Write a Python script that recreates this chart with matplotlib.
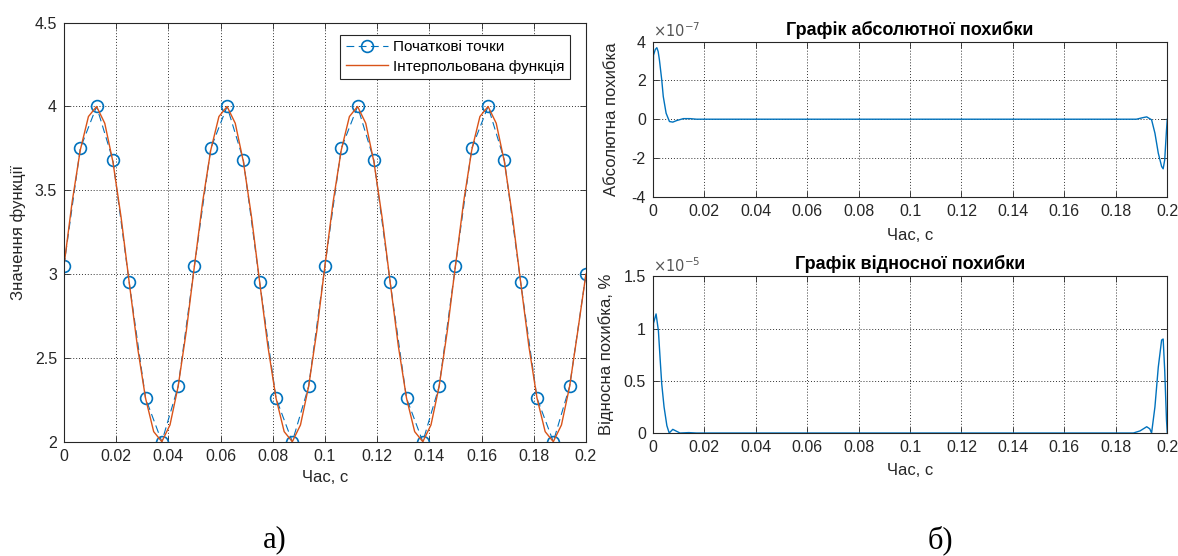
import matplotlib
matplotlib.use("Agg")
import matplotlib.pyplot as plt
import matplotlib.ticker as mt

plt.rcParams['font.family'] = ['Liberation Sans', 'DejaVu Sans']
plt.rcParams['axes.unicode_minus'] = False

# left plot: initial points and interpolated function
sample_t = [0, 0.00625, 0.0125, 0.01875, 0.025, 0.03125, 0.0375, 0.04375,
            0.05, 0.05625, 0.0625, 0.06875, 0.075, 0.08125, 0.0875, 0.09375,
            0.1, 0.10625, 0.1125, 0.11875, 0.125, 0.13125, 0.1375, 0.14375,
            0.15, 0.15625, 0.1625, 0.16875, 0.175, 0.18125, 0.1875, 0.19375, 0.2]
sample_y = [3.05, 3.75, 4.0, 3.68, 2.95, 2.26, 2.0, 2.33,
            3.05, 3.75, 4.0, 3.68, 2.95, 2.26, 2.0, 2.33,
            3.05, 3.75, 4.0, 3.68, 2.95, 2.26, 2.0, 2.33,
            3.05, 3.75, 4.0, 3.68, 2.95, 2.26, 2.0, 2.33, 3.0]

curve_t = [0, 0.003125, 0.00625, 0.009375, 0.0125, 0.015625, 0.01875, 0.021875,
           0.025, 0.028125, 0.03125, 0.034375, 0.0375, 0.040625, 0.04375, 0.046875,
           0.05, 0.053125, 0.05625, 0.059375, 0.0625, 0.065625, 0.06875, 0.071875,
           0.075, 0.078125, 0.08125, 0.084375, 0.0875, 0.090625, 0.09375, 0.096875,
           0.1, 0.103125, 0.10625, 0.109375, 0.1125, 0.115625, 0.11875, 0.121875,
           0.125, 0.128125, 0.13125, 0.134375, 0.1375, 0.140625, 0.14375, 0.146875,
           0.15, 0.153125, 0.15625, 0.159375, 0.1625, 0.165625, 0.16875, 0.171875,
           0.175, 0.178125, 0.18125, 0.184375, 0.1875, 0.190625, 0.19375, 0.196875, 0.2]
curve_y = [3.05, 3.43, 3.74, 3.94, 4.00, 3.90, 3.67, 3.34, 2.95, 2.57, 2.26, 2.06, 2.00, 2.10, 2.33, 2.66,
           3.05, 3.43, 3.74, 3.94, 4.00, 3.90, 3.67, 3.34, 2.95, 2.57, 2.26, 2.06, 2.00, 2.10, 2.33, 2.66,
           3.05, 3.43, 3.74, 3.94, 4.00, 3.90, 3.67, 3.34, 2.95, 2.57, 2.26, 2.06, 2.00, 2.10, 2.33, 2.66,
           3.05, 3.43, 3.74, 3.94, 4.00, 3.90, 3.67, 3.34, 2.95, 2.57, 2.26, 2.06, 2.00, 2.10, 2.33, 2.66,
           3.0]

# right top: absolute error
abs_t = [0, 0.0003, 0.0010, 0.0016, 0.0021, 0.0026, 0.0035, 0.0041, 0.0052, 0.0065,
         0.0078, 0.0093, 0.0119, 0.0145, 0.0170, 0.0200, 0.1880, 0.1905, 0.1920, 0.1939,
         0.1952, 0.1965, 0.1978, 0.1984, 0.1990, 0.1997, 0.2000]
abs_err = [0, 3.3e-7, 3.6e-7, 3.69e-7, 3.5e-7, 3.06e-7, 2.03e-7, 1.17e-7, 0.31e-7, -0.12e-7,
           -0.15e-7, -0.07e-7, 0.03e-7, 0.03e-7, 0.0, 0.0, 0.0, 0.08e-7, 0.12e-7, -0.03e-7,
           -0.72e-7, -1.75e-7, -2.44e-7, -2.56e-7, -2.1e-7, -0.55e-7, 0]

# right bottom: relative error, %
rel_t = [0, 0.0003, 0.0013, 0.0022, 0.0029, 0.0035, 0.0044, 0.0055, 0.0064, 0.0078,
         0.0093, 0.0106, 0.0140, 0.0170, 0.1868, 0.1894, 0.1920, 0.1932, 0.1939, 0.1952,
         0.1965, 0.1978, 0.1984, 0.1990, 0.1997, 0.2]
rel_err = [0, 1.05e-5, 1.14e-5, 0.98e-5, 0.70e-5, 0.47e-5, 0.25e-5, 0.07e-5, 0.0, 0.035e-5,
           0.016e-5, 0.0, 0.004e-5, 0.0, 0.0, 0.02e-5, 0.06e-5, 0.04e-5, 0.0, 0.25e-5,
           0.63e-5, 0.89e-5, 0.90e-5, 0.6e-5, 0.12e-5, 0]

x_ticks = [0, 0.02, 0.04, 0.06, 0.08, 0.1, 0.12, 0.14, 0.16, 0.18, 0.2]

blue = '#0072BD'
orange = '#D95319'
axcol = '#262626'
fs = 11.5
lfs = 12


def style(ax):
    ax.set_xlim(0, 0.2)
    ax.set_xticks(x_ticks)
    ax.xaxis.set_major_formatter(mt.FuncFormatter(lambda x, p: f'{x:g}'))
    ax.tick_params(direction='in', top=True, right=True, length=4, width=0.6,
                   labelsize=fs, colors=axcol, pad=5)
    for s in ax.spines.values():
        s.set_color(axcol)
        s.set_linewidth(0.8)
    ax.grid(True, linestyle=(0, (1, 2)), color='#333333', linewidth=0.7)


fig = plt.figure(figsize=(11.78, 5.56), dpi=100)

ax1 = fig.add_axes([0.0543, 0.2056, 0.4431, 0.7536])
ax1.plot(sample_t, sample_y, linestyle=(0, (7, 4)), color=blue, linewidth=0.8,
         marker='o', markersize=8.5, markerfacecolor='none', markeredgewidth=1.2,
         label='Початкові точки')
ax1.plot(curve_t, curve_y, color=orange, linewidth=1.0, label='Інтерпольована функція')
style(ax1)
ax1.set_ylim(2, 4.5)
ax1.set_yticks([2, 2.5, 3, 3.5, 4, 4.5])
ax1.yaxis.set_major_formatter(mt.FuncFormatter(lambda y, p: f'{y:g}'))
ax1.set_xlabel('Час, с', fontsize=lfs, color=axcol)
ax1.xaxis.set_label_coords(0.5, -0.068)
ax1.set_ylabel('Значення функції', fontsize=lfs, color=axcol)
ax1.yaxis.set_label_coords(-0.072, 0.5)
leg = ax1.legend(loc='upper right', bbox_to_anchor=(0.969, 0.971), borderaxespad=0,
                 fontsize=11, frameon=True, fancybox=False, edgecolor=axcol, framealpha=1,
                 handlelength=2.8, borderpad=0.35, labelspacing=0.35, handletextpad=0.3)
leg.get_frame().set_linewidth(0.8)

ax2 = fig.add_axes([0.5541, 0.6462, 0.4368, 0.2788])
ax2.plot(abs_t, abs_err, color=blue, linewidth=1.0)
style(ax2)
ax2.set_ylim(-4e-7, 4e-7)
ax2.set_yticks([-4e-7, -2e-7, 0, 2e-7, 4e-7])
ax2.yaxis.set_major_formatter(mt.FuncFormatter(lambda y, p: f'{y / 1e-7:g}'))
ax2.text(0.0, 1.01, r'$\times10^{-7}$', transform=ax2.transAxes, fontsize=fs - 1,
         color='#555555', ha='left', va='bottom')
ax2.set_title('Графік абсолютної похибки', fontsize=13, fontweight='bold', pad=5)
ax2.set_xlabel('Час, с', fontsize=lfs, color=axcol)
ax2.xaxis.set_label_coords(0.5, -0.2)
ax2.set_ylabel('Абсолютна похибка', fontsize=lfs, color=axcol)
ax2.yaxis.set_label_coords(-0.066, 0.5)

ax3 = fig.add_axes([0.5541, 0.2212, 0.4368, 0.2818])
ax3.plot(rel_t, rel_err, color=blue, linewidth=1.0)
style(ax3)
ax3.set_ylim(0, 1.5e-5)
ax3.set_yticks([0, 0.5e-5, 1e-5, 1.5e-5])
ax3.yaxis.set_major_formatter(mt.FuncFormatter(lambda y, p: f'{y / 1e-5:g}'))
ax3.text(0.0, 1.01, r'$\times10^{-5}$', transform=ax3.transAxes, fontsize=fs - 1,
         color='#555555', ha='left', va='bottom')
ax3.set_title('Графік відносної похибки', fontsize=13, fontweight='bold', pad=5)
ax3.set_xlabel('Час, с', fontsize=lfs, color=axcol)
ax3.xaxis.set_label_coords(0.5, -0.19)
ax3.set_ylabel('Відносна похибка, %', fontsize=lfs, color=axcol)
ax3.yaxis.set_label_coords(-0.075, 0.5)

fig.text(275 / 1178, 1 - 540 / 556, 'а)', fontsize=22, family='Liberation Serif',
         ha='center', va='center')
fig.text(940 / 1178, 1 - 540 / 556, 'б)', fontsize=22, family='Liberation Serif',
         ha='center', va='center')

fig.savefig('out.png', dpi=100)
